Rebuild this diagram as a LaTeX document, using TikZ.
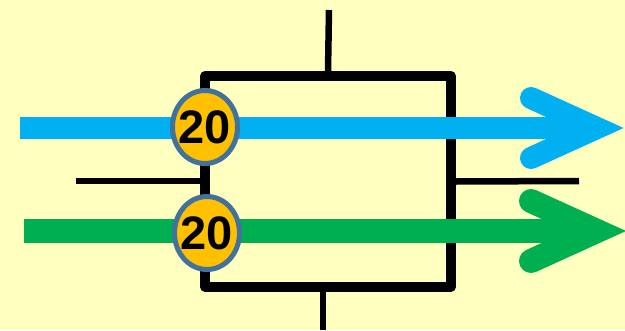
\documentclass[tikz,border=0pt]{standalone}
\usepackage{fontspec}
\setmainfont{Liberation Sans}
\usetikzlibrary{shapes.geometric}
\definecolor{paper}{HTML}{FFFFC0}
\definecolor{flowblue}{HTML}{00B0F0}
\definecolor{flowgreen}{HTML}{00B050}
\definecolor{badgefill}{HTML}{FFC000}
\definecolor{badgeedge}{HTML}{41719C}
\begin{document}
\begin{tikzpicture}[x=1pt,y=-1pt]
    \tikzstyle{every node}=[font=\fontsize{47}{47}\selectfont\bfseries]
    \tikzstyle{box line}=[draw=black, line width=9.5pt, line join=round, inner sep=0pt]
    \tikzstyle{stub}=[line width=6.5pt]
    \tikzstyle{flow}=[line width=22pt]
    \tikzstyle{head}=[line width=22pt, line cap=round, line join=miter]
    \tikzstyle{badge}=[ellipse, draw=badgeedge, fill=badgefill, line width=5pt, minimum width=65pt, minimum height=73pt, inner sep=0pt]

    % Background and frame of the picture
    \fill[paper] (0,0) rectangle (625,330);
    \useasboundingbox (0,0) rectangle (625,330);
    \clip (0,0) rectangle (625,330);

    % Draw the block
    \node[box line, minimum width=246pt, minimum height=211pt] (box) at (328,181.5) {};

    % Draw the stubs on its four sides
    \coordinate (top) at (329,10);
    \coordinate (bottom) at (323,330);
    \coordinate (left) at (76,181);
    \coordinate (right) at (579,181);
    \draw[stub] (top) -- (box.north);
    \draw[stub] (box.south -| bottom) -- (bottom);
    \draw[stub] (left) -- (left -| box.west);
    \draw[stub] (box.east) -- (right);

    % Draw the two flows running through the block
    \foreach \name / \x / \y / \col / \w in {blue/20/128/flowblue/22, green/24/231/flowgreen/24}
    {
        \coordinate (\name-in) at (\x,\y);
        \coordinate (\name-out) at (597,\y);
        \draw[flow, \col, line width=\w pt] (\name-in) -- (\name-out);
        \draw[head, \col, line width=\w pt] (\name-out) ++(-66,-30) -- (\name-out) -- ++(-66,30);
    }

    % Put the badges on the left side
    \node[badge] (badge-1) at (205,127) {\makebox[0pt]{20}};
    \node[badge] (badge-2) at (207,233) {\makebox[0pt]{20}};
\end{tikzpicture}
\end{document}
